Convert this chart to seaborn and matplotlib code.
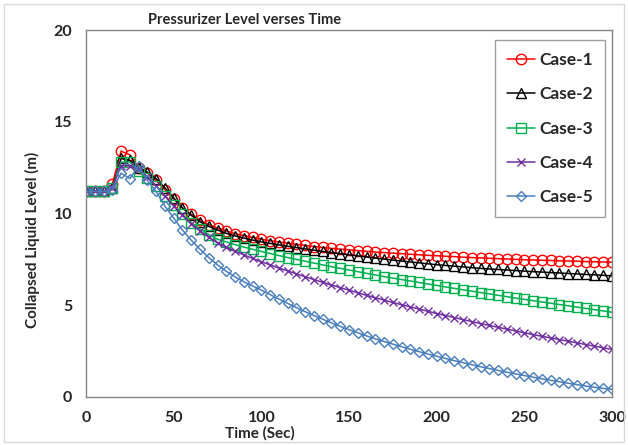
import pandas as pd
import matplotlib
matplotlib.use("Agg")
import matplotlib.pyplot as plt
import seaborn as sns
from matplotlib.patches import Rectangle

# Time axis (s), one sample every 5 s
time = list(range(0, 305, 5))

case1 = [11.2, 11.2, 11.2, 11.6, 13.4, 13.2, 12.5, 12.2, 11.8, 11.3,
         10.8, 10.3, 9.95, 9.65, 9.4, 9.2, 9.05, 8.9, 8.8, 8.7,
         8.6, 8.52, 8.45, 8.38, 8.32, 8.26, 8.2, 8.15, 8.1, 8.06,
         8.02, 7.98, 7.94, 7.9, 7.87, 7.84, 7.81, 7.78, 7.75, 7.72,
         7.7, 7.67, 7.65, 7.62, 7.6, 7.58, 7.56, 7.54, 7.52, 7.5,
         7.48, 7.47, 7.45, 7.44, 7.42, 7.41, 7.4, 7.38, 7.37, 7.36, 7.35]
case2 = [11.2, 11.2, 11.2, 11.4, 13.0, 12.9, 12.5, 12.25, 11.9, 11.4,
         10.85, 10.3, 9.9, 9.55, 9.3, 9.1, 8.92, 8.78, 8.66, 8.55,
         8.45, 8.37, 8.29, 8.21, 8.14, 8.07, 8.0, 7.93, 7.87, 7.81,
         7.75, 7.69, 7.63, 7.57, 7.52, 7.46, 7.41, 7.36, 7.31, 7.26,
         7.21, 7.17, 7.13, 7.09, 7.05, 7.01, 6.98, 6.95, 6.92, 6.89,
         6.86, 6.83, 6.81, 6.78, 6.76, 6.73, 6.71, 6.68, 6.66, 6.63, 6.6]
case3 = [11.2, 11.2, 11.2, 11.4, 12.8, 12.8, 12.3, 11.95, 11.5, 10.95,
         10.45, 9.95, 9.5, 9.15, 8.85, 8.6, 8.45, 8.3, 8.17, 8.05,
         7.93, 7.82, 7.71, 7.6, 7.5, 7.4, 7.3, 7.2, 7.1, 7.01,
         6.92, 6.83, 6.74, 6.65, 6.56, 6.48, 6.4, 6.32, 6.24, 6.16,
         6.08, 6.0, 5.92, 5.84, 5.77, 5.69, 5.62, 5.54, 5.47, 5.39,
         5.32, 5.25, 5.18, 5.11, 5.04, 4.97, 4.9, 4.83, 4.76, 4.69, 4.62]
case4 = [11.2, 11.2, 11.2, 11.4, 12.6, 12.6, 12.4, 12.0, 11.5, 10.95,
         10.4, 9.9, 9.45, 9.05, 8.7, 8.4, 8.15, 7.95, 7.75, 7.55,
         7.37, 7.2, 7.03, 6.87, 6.71, 6.55, 6.4, 6.25, 6.1, 5.96,
         5.82, 5.68, 5.54, 5.41, 5.28, 5.15, 5.03, 4.91, 4.79, 4.67,
         4.55, 4.44, 4.33, 4.22, 4.11, 4.0, 3.9, 3.8, 3.7, 3.6,
         3.5, 3.4, 3.31, 3.22, 3.13, 3.04, 2.95, 2.86, 2.77, 2.68, 2.6]
case5 = [11.2, 11.2, 11.2, 11.3, 12.2, 11.9, 12.6, 11.8, 11.2, 10.4,
         9.75, 9.1, 8.55, 8.05, 7.6, 7.2, 6.85, 6.55, 6.28, 6.05,
         5.83, 5.58, 5.34, 5.1, 4.87, 4.65, 4.44, 4.24, 4.04, 3.85,
         3.67, 3.5, 3.33, 3.17, 3.02, 2.88, 2.74, 2.6, 2.47, 2.34,
         2.22, 2.1, 1.98, 1.87, 1.76, 1.65, 1.55, 1.45, 1.35, 1.26,
         1.17, 1.08, 0.99, 0.91, 0.83, 0.75, 0.67, 0.6, 0.53, 0.47, 0.42]

cases = ["Case-1", "Case-2", "Case-3", "Case-4", "Case-5"]
series = [case1, case2, case3, case4, case5]
colors = ["#FF0000", "#000000", "#00B050", "#7030A0", "#4A7EBB"]
markers = ["o", "^", "s", "x", "D"]
msizes = [7.5, 7, 7, 5.5, 5.5]

df = pd.concat(
    [pd.DataFrame({"Time": time, "Level": s, "Case": c}) for c, s in zip(cases, series)],
    ignore_index=True,
)

sns.set_style("white")
plt.rcParams["font.family"] = ["Lato", "DejaVu Sans"]

fig = plt.figure(figsize=(6.28, 4.45), dpi=100)
ax = fig.add_axes([86 / 628, 1 - 397 / 445, (612 - 86) / 628, (397 - 30) / 445])

for c, col, m, ms in zip(cases, colors, markers, msizes):
    sns.lineplot(data=df[df["Case"] == c], x="Time", y="Level", ax=ax,
                 color=col, marker=m, markersize=ms, linewidth=1.1,
                 markerfacecolor="none" if m != "x" else col,
                 markeredgecolor=col, markeredgewidth=1.0, label=c)

ax.set_xlim(0, 300)
ax.set_ylim(0, 20)
ax.set_xticks(range(0, 301, 50))
ax.set_yticks(range(0, 21, 5))
ax.set_xlabel("")
ax.set_ylabel("")
for sp in ax.spines.values():
    sp.set_color("#868686")
    sp.set_linewidth(1.0)
ax.tick_params(axis="both", direction="out", length=5, width=1, color="#868686",
               labelsize=11.5, pad=5)
for lbl in ax.get_xticklabels() + ax.get_yticklabels():
    lbl.set_fontweight("bold")

fig.text(245 / 628, 1 - 20 / 445, "Pressurizer Level verses Time", ha="center",
         va="center", fontsize=10.5, fontweight="bold")
fig.text(260 / 628, 1 - 433 / 445, "Time (Sec)", ha="center", va="center",
         fontsize=11, fontweight="bold")
fig.text(32 / 628, 1 - 240 / 445, "Collapsed Liquid Level (m)", ha="center",
         va="center", rotation=90, fontsize=11, fontweight="bold")

leg = ax.legend(loc="upper right", bbox_to_anchor=(0.997, 0.987),
                prop={"weight": "bold", "size": 12.5}, frameon=True, fancybox=False,
                handlelength=1.6, handletextpad=0.25, labelspacing=1.05,
                borderpad=0.7, borderaxespad=0.3)
leg.get_frame().set_edgecolor("#868686")
leg.get_frame().set_linewidth(1.0)

fig.patches.append(Rectangle((0.006, 0.006), 0.988, 0.985, transform=fig.transFigure,
                             fill=False, edgecolor="#D9D9D9", linewidth=1.0))

fig.savefig("out.png", dpi=100)
